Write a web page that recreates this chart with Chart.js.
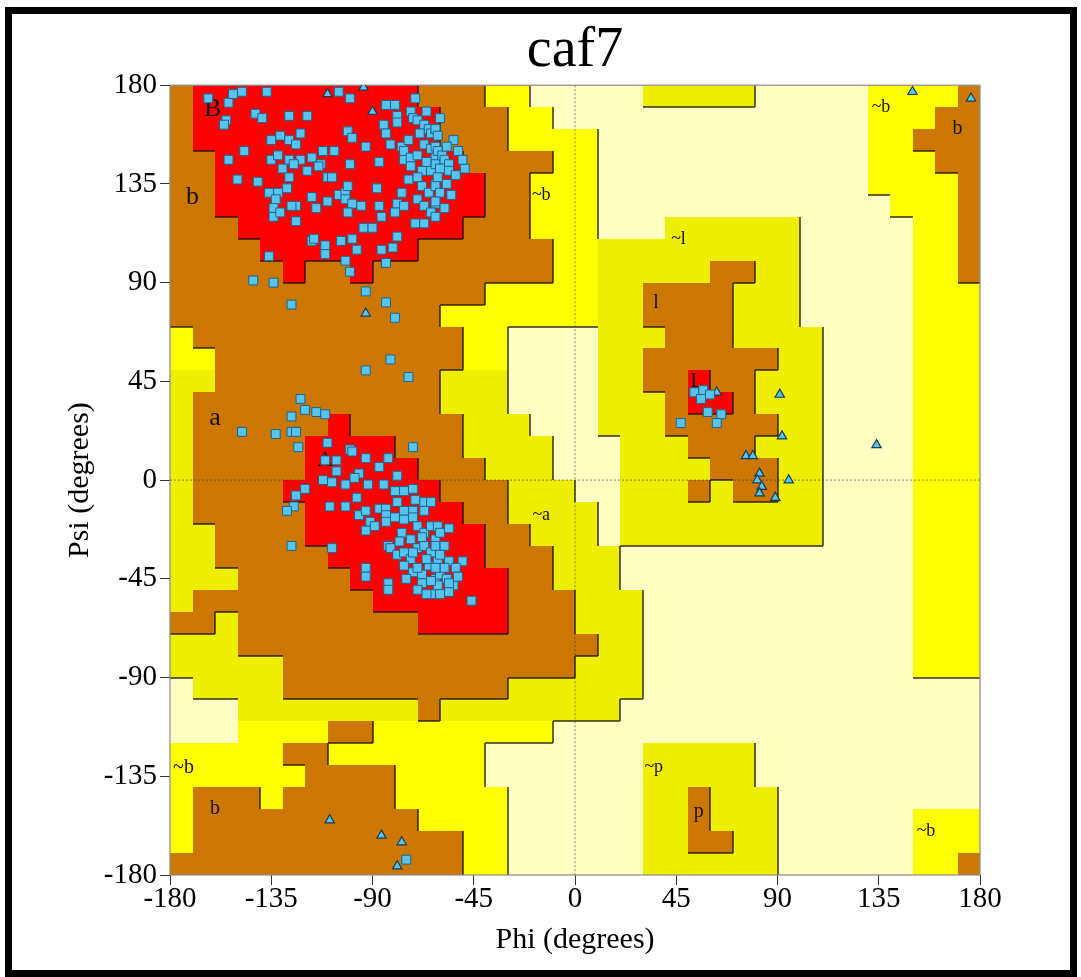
<!DOCTYPE html>
<html><head><meta charset="utf-8">
<script src="https://cdn.jsdelivr.net/npm/chart.js@4/dist/chart.umd.min.js"></script>
<style>
html,body{margin:0;padding:0;background:#fff;}
#wrap{position:relative;width:1081px;height:977px;overflow:hidden;}
#frame{position:absolute;left:5px;top:7px;width:1058px;height:956px;border:7px solid #000;pointer-events:none;}
canvas{position:absolute;left:0;top:0;}
</style></head><body>
<div id="wrap"><canvas id="c" width="1081" height="977"></canvas><div id="frame"></div></div>
<script>
// ---- Data ----
const chartTitle = 'caf7';
const axisTicks = [-180, -135, -90, -45, 0, 45, 90, 135, 180];

// Region map: 36 rows (psi 180 -> -180, 10 deg each) x 36 cols (phi -180 -> 180, 10 deg each)
// R core, B allowed, Y/G generously allowed, P disallowed
const regionRows = [
"BRRRRRRRRRRBBBYYPPPPPGGGGGPPPPPYYYYB",
"BRRRRRRRRRRRBBBYYPPPPPPPPPPPPPPYYYBB",
"BRRRRRRRRRRRBBBYYYYPPPPPPPPPPPPYYBBB",
"BBRRRRRRRRRRRBBBBYYPPPPPPPPPPPPYYYBB",
"BBRRRRRRRRRRRRBBYYYPPPPPPPPPPPPYYYYB",
"BBRRRRRRRRRRRRBBYYYPPPPPPPPPPPPPYYYB",
"BBBRRRRRRRRRRBBBYYYPPPGGGGGGPPPPPYYB",
"BBBBRRRRRRRBBBBBBYYGGGGGGGGGPPPPPYYB",
"BBBBBRBBRBBBBBBBBYYGGGGGBBGGPPPPPYYB",
"BBBBBBBBBBBBBBYYYYYGGBBBBGGGPPPPPYYY",
"BBBBBBBBBBBBYYYYYYYGGBBBBGGGPPPPPYYY",
"YBBBBBBBBBBBBYYPPPPGGGBBBGGGGPPPPYYY",
"YYBBBBBBBBBBBYYPPPPGGBBBBBBGGPPPPYYY",
"GGBBBBBBBBBBGGGPPPPGGBBRBBGGGPPPPYYY",
"GBBBBBBBBBBBGGGPPPPGGGBRRBGGGPPPPYYY",
"GBBBBBBRBBBBBGGGPPPGGGBBBBBGGPPPPYYY",
"GBBBBBRRRRBBBGGGGPPPGGGBBBGGGPPPPYYY",
"GBBBBBRRRRRBBBGGGPPPGGGGBBBGGPPPPYYY",
"GBBBBRRRRRRRBBBGGGPPGGGBGBBGGPPPPYYY",
"GBBBBBRRRRRRRBBGGGGPGGGGGGGGGPPPPYYY",
"GGBBBBRRRRRRRRBBGGGPGGGGGGGGGPPPPYYY",
"GGBBBBBRRRRRRRBBBGGGPPPPPPPPPPPPPYYY",
"GGGBBBBBRRRRRRRBBGGGPPPPPPPPPPPPPYYY",
"GBBBBBBBBRRRRRRBBBGGGPPPPPPPPPPPPYYY",
"BBGBBBBBBBBRRRRBBBGGGPPPPPPPPPPPPYYY",
"GGGBBBBBBBBBBBBBBBBGGPPPPPPPPPPPPYYY",
"GGGGGBBBBBBBBBBBBBGGGPPPPPPPPPPPPYYY",
"PGGGGBBBBBBBBBBGGGGGGPPPPPPPPPPPPPPP",
"PPPGGGGGGGGBGGGGGGGGPPPPPPPPPPPPPPPP",
"PPPYYYYBBYYYYYYYYPPPPPPPPPPPPPPPPPPP",
"YYYYYBBYYYYYYYPPPPPPPGGGGGPPPPPPPPPP",
"YYYYYYBBBBYYYYPPPPPPPGGGGGPPPPPPPPPP",
"YBBBYBBBBBYYYYYPPPPPPGGBGGGPPPPPPPPP",
"YBBBBBBBBBBYYYYPPPPPPGGBGGGPPPPPPYYY",
"YBBBBBBBBBBBBYYPPPPPPGGBBGGPPPPPPYYY",
"BBBBBBBBBBBBBYYPPPPPPGGGGGGPPPPPPYYB"
];
const regionColors = { R: '#FF0000', B: '#CC7800', Y: '#FFFF00', G: '#EEEE00', P: '#FFFFC2' };
const regionRank = { R: 3, B: 2, Y: 1, G: 1, P: 0 };

// Region labels
const labelText = ['B', 'b', 'A', 'a', '~b', '~l', 'l', 'L', '~a', '~b', 'b', '~p', 'p', '~b', 'b', '~b'];
const labelPhi  = [-161, -170, -111, -160, -15, 46, 36, 54, -15, -174, -160, 35, 55, 136, 170, 156];
const labelPsi  = [169, 129, 9, 28, 130, 110, 81, 45, -16, -131, -150, -131, -151, 170, 160, -160];
const labelSize = [26, 26, 22, 26, 18, 18, 20, 20, 18, 20, 20, 18, 20, 18, 20, 18];

// Residues (squares: non-Gly, triangles: Gly)
const squarePhi = [
-163,-154,-152,-148,-137,-105,-100,-84,-80,-71,-155,-156,-142,-139,-127,-119,-101,-99,-85,-79,
-79,-73,-72,-70,-67,-65,-64,-62,-135,-131,-127,-124,-122,-147,-154,-135,-132,-127,-122,-117,
-113,-112,-107,-93,-84,-82,-77,-76,-76,-73,-70,-67,-64,-62,-73,-68,-64,-62,-100,-87,
-130,-125,-127,-128,-119,-114,-150,-141,-136,-132,-133,-110,-108,-105,-102,-101,-102,-99,-95,-88,
-87,-77,-74,-70,-68,-65,-62,-79,-76,-70,-67,-62,-117,-115,-110,-124,-126,-134,-134,-131,
-124,-101,-94,-90,-86,-71,-67,-80,-64,-117,-116,-111,-104,-99,-97,-111,-102,-86,-81,-79,
-84,-136,-100,-143,-134,-93,-84,-126,-80,
-62,-61,-62,-61,-59,-58,-56,-60,-56,-49,-61,-62,-60,-62,-58,-62,
-52,-50,-54,-57,-53,-57,-55,-66,-69,-74,-60,-66,
-82,-93,-74,-122,-120,-126,-115,-111,-148,-133,-126,-124,-123,-110,-100,-99,-93,-83,-72,-111,
-106,-106,-87,-79,-96,-98,-112,-108,-102,-92,-85,-120,-124,-125,-128,-109,-102,-97,-96,-93,
-87,-84,-91,-89,-93,-84,-84,-80,-76,-72,-71,-79,-76,-72,-67,-64,-67,-72,-76,-80,
-126,-108,-93,-93,-83,-82,-77,-73,-70,-67,-64,-62,-79,-76,-73,-70,-67,-64,-76,-72,
-68,-65,-62,-83,-83,-68,-64,
-61,-56,-60,-62,-58,-61,-56,-50,-53,-60,-57,-54,-61,-56,-60,-46,
-70,-66,-60,-58,-64,-70,-75,-66,-72,-78,-56,-52,-62,-68,
53,57,56,59,47,65,63,60,
-75
];
const squarePsi = [
174,172,176,177,177,177,174,171,171,174,164,162,167,165,166,166,159,156,162,166,
163,168,165,164,162,160,158,160,155,157,155,153,158,150,146,146,148,146,146,147,
144,150,150,152,158,153,152,150,146,147,148,153,151,147,143,141,141,144,144,145,
142,144,138,133,141,143,137,136,131,131,128,138,138,130,131,134,128,126,125,133,
125,131,137,138,134,131,135,126,125,128,125,126,129,124,127,125,125,124,120,122,
118,122,115,115,120,117,117,122,122,109,110,107,109,110,105,103,100,105,106,111,
99,102,95,91,90,86,81,80,74,
160,157,152,150,148,146,144,142,141,142,138,134,131,127,124,120,
150,146,155,152,139,135,130,145,158,155,165,168,
55,50,47,37,32,29,31,30,22,21,22,22,15,17,14,13,10,10,15,9,
9,4,6,2,3,1,0,-1,-2,-2,-2,-4,-7,-12,-14,-12,-12,-8,-16,-14,
-13,-13,-19,-21,-23,-16,-19,-5,-5,-4,-9,-10,-14,-14,-10,-10,-14,-17,-18,-17,
-30,-31,-40,-44,-30,-31,-24,-27,-21,-24,-21,-27,-34,-33,-36,-31,-30,-33,-39,-42,
-43,-39,-45,-47,-50,-47,-52,
-21,-22,-24,-30,-30,-37,-37,-37,-40,-43,-45,-48,-48,-51,-52,-55,
-40,-36,-34,-40,-46,-50,-45,-52,-33,-28,-47,-44,-40,-26,
40,41,37,31,26,30,26,39,
-173
];
const triPhi = [-110,-94,-90,-93,150,176,63,91,92,76,79,82,81,83,82,89,95,134,-109,-86,-77,-79];
const triPsi = [176,179,168,76,177,174,40,39,20,11,11,3,0,-3,-6,-8,0,16,-155,-162,-165,-176];

// ---- Plugins ----
const SERIF = '"Liberation Serif", "DejaVu Serif", serif';
const background = {
  id: 'ramaBackground',
  beforeDatasetsDraw(chart) {
    const { ctx, chartArea: a, scales: { x, y } } = chart;
    ctx.save();
    ctx.beginPath(); ctx.rect(a.left, a.top, a.right - a.left, a.bottom - a.top); ctx.clip();
    const nr = regionRows.length, nc = regionRows[0].length;
    const cell = (r, c) => {
      const phi0 = -180 + 10 * c, psi1 = 180 - 10 * r;
      return [Math.round(x.getPixelForValue(phi0)), Math.round(y.getPixelForValue(psi1)),
              Math.round(x.getPixelForValue(phi0 + 10)), Math.round(y.getPixelForValue(psi1 - 10))];
    };
    for (let r = 0; r < nr; r++) for (let c = 0; c < nc; c++) {
      const [x0, y0, x1, y1] = cell(r, c);
      ctx.fillStyle = regionColors[regionRows[r][c]];
      ctx.fillRect(x0, y0, x1 - x0, y1 - y0);
    }
    ctx.strokeStyle = 'rgba(20,10,0,0.85)';
    ctx.lineWidth = 1.5;
    ctx.beginPath();
    for (let r = 0; r < nr; r++) for (let c = 0; c < nc; c++) {
      const k = regionRank[regionRows[r][c]];
      const [x0, y0, x1, y1] = cell(r, c);
      if (c + 1 < nc && k > regionRank[regionRows[r][c + 1]]) { ctx.moveTo(x1, y0); ctx.lineTo(x1, y1); }
      if (r + 1 < nr && k > regionRank[regionRows[r + 1][c]]) { ctx.moveTo(x0, y1); ctx.lineTo(x1, y1); }
    }
    ctx.stroke();
    // zero lines
    ctx.setLineDash([2, 2]);
    ctx.strokeStyle = 'rgba(60,60,60,0.8)';
    ctx.lineWidth = 0.8;
    ctx.beginPath();
    const x0 = x.getPixelForValue(0), y0 = y.getPixelForValue(0);
    ctx.moveTo(x0, a.top); ctx.lineTo(x0, a.bottom);
    ctx.moveTo(a.left, y0); ctx.lineTo(a.right, y0);
    ctx.stroke();
    ctx.setLineDash([]);
    // labels
    ctx.fillStyle = '#1a1000';
    ctx.textAlign = 'center'; ctx.textBaseline = 'middle';
    labelText.forEach((t, i) => {
      ctx.font = labelSize[i] + 'px ' + SERIF;
      ctx.fillText(t, x.getPixelForValue(labelPhi[i]), y.getPixelForValue(labelPsi[i]));
    });
    ctx.restore();
    // plot frame
    ctx.save();
    ctx.strokeStyle = '#8a8a8a'; ctx.lineWidth = 1.2;
    ctx.strokeRect(a.left, a.top, a.right - a.left, a.bottom - a.top);
    ctx.restore();
  }
};

const toXY = (xs, ys) => xs.map((v, i) => ({ x: v, y: ys[i] }));

new Chart(document.getElementById('c'), {
  type: 'scatter',
  data: {
    datasets: [
      { label: 'residues', data: toXY(squarePhi, squarePsi), pointStyle: 'rect', pointRadius: 6.3,
        backgroundColor: '#55C4EF', borderColor: '#23648c', borderWidth: 1 },
      { label: 'glycine', data: toXY(triPhi, triPsi), pointStyle: 'triangle', pointRadius: 5.4,
        backgroundColor: '#55C4EF', borderColor: '#1b3b55', borderWidth: 1.2 }
    ]
  },
  options: {
    responsive: false, animation: false, events: [],
    layout: { padding: { top: 10, right: 101, bottom: 0, left: 0 } },
    plugins: {
      legend: { display: false }, tooltip: { enabled: false },
      title: { display: true, text: chartTitle, fullSize: false, color: '#000',
               font: { family: SERIF, size: 56, weight: 'normal', lineHeight: 1.2 },
               padding: { top: 8, bottom: 0 } }
    },
    scales: {
      x: {
        type: 'linear', min: -180, max: 180,
        afterBuildTicks: s => { s.ticks = axisTicks.map(v => ({ value: v })); },
        afterFit: s => { s.height = 102; },
        grid: { drawOnChartArea: false, drawTicks: true, tickLength: 10, tickColor: '#333', lineWidth: 1 },
        border: { display: false },
        ticks: { color: '#000', padding: 0, maxRotation: 0, autoSkip: false,
                 font: { family: SERIF, size: 29, lineHeight: 1 }, callback: v => String(v) },
        title: { display: true, text: 'Phi (degrees)', color: '#000',
                 font: { family: SERIF, size: 30, lineHeight: 1.2 }, padding: { top: 0, bottom: 19 } }
      },
      y: {
        type: 'linear', min: -180, max: 180,
        afterBuildTicks: s => { s.ticks = axisTicks.map(v => ({ value: v })); },
        afterFit: s => { s.width = 170; },
        grid: { drawOnChartArea: false, drawTicks: true, tickLength: 10, tickColor: '#333', lineWidth: 1 },
        border: { display: false },
        ticks: { color: '#000', padding: 3, autoSkip: false,
                 font: { family: SERIF, size: 29, lineHeight: 1 }, callback: v => String(v) },
        title: { display: true, text: 'Psi (degrees)', color: '#000',
                 font: { family: SERIF, size: 30, lineHeight: 1.2 }, padding: { top: 62, bottom: 0 } }
      }
    }
  },
  plugins: [background]
});
</script>
</body></html>
